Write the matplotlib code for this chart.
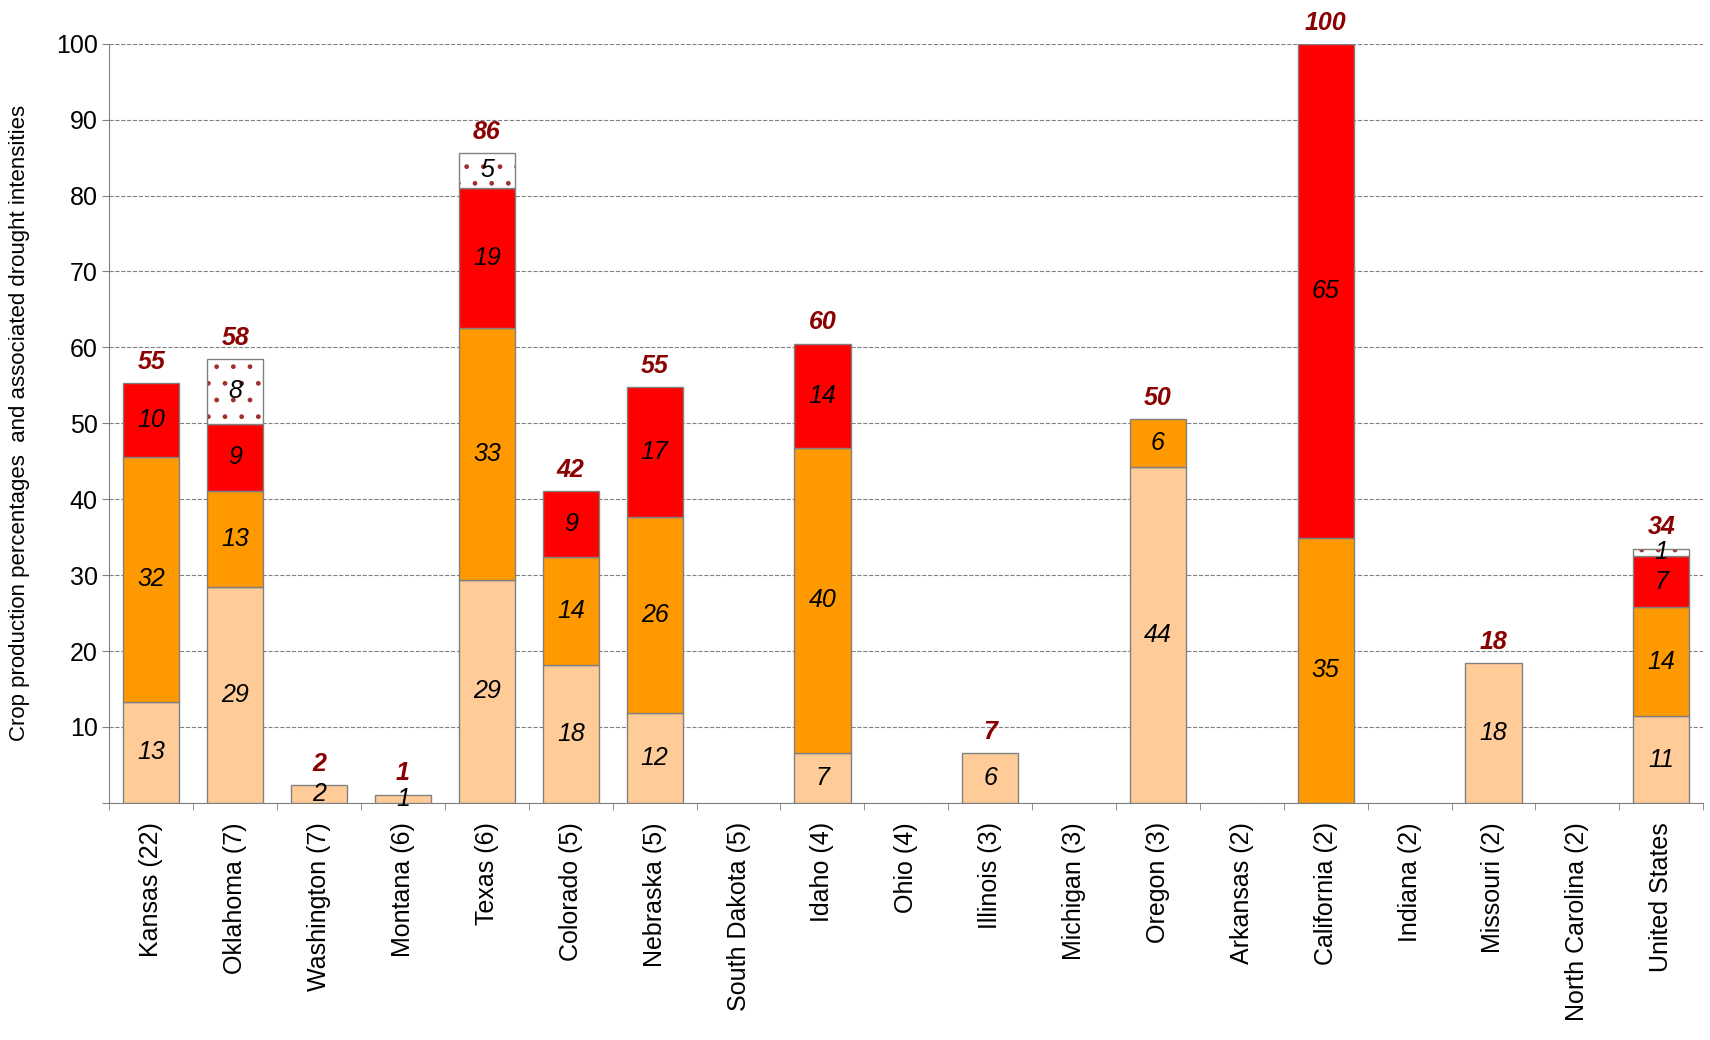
import numpy as np
import matplotlib.pyplot as plt

plt.rcParams['font.family'] = ['Liberation Sans', 'DejaVu Sans']

states = ["Kansas (22)", "Oklahoma (7)", "Washington (7)", "Montana (6)", "Texas (6)",
          "Colorado (5)", "Nebraska (5)", "South Dakota (5)", "Idaho (4)", "Ohio (4)",
          "Illinois (3)", "Michigan (3)", "Oregon (3)", "Arkansas (2)", "California (2)",
          "Indiana (2)", "Missouri (2)", "North Carolina (2)", "United States"]

d1 = [13.3, 28.5, 2.4, 1.1, 29.4, 18.1, 11.8, 0, 6.6, 0, 6.6, 0, 44.2, 0, 0, 0, 18.4, 0, 11.4]
d2 = [32.3, 12.6, 0, 0, 33.1, 14.3, 25.9, 0, 40.2, 0, 0, 0, 6.3, 0, 34.9, 0, 0, 0, 14.4]
d3 = [9.7, 8.8, 0, 0, 18.5, 8.7, 17.1, 0, 13.7, 0, 0, 0, 0, 0, 65.1, 0, 0, 0, 6.7]
d4 = [0, 8.6, 0, 0, 4.6, 0, 0, 0, 0, 0, 0, 0, 0, 0, 0, 0, 0, 0, 1.0]

lab1 = ["13", "29", "2", "1", "29", "18", "12", "", "7", "", "6", "", "44", "", "", "", "18", "", "11"]
lab2 = ["32", "13", "", "", "33", "14", "26", "", "40", "", "", "", "6", "", "35", "", "", "", "14"]
lab3 = ["10", "9", "", "", "19", "9", "17", "", "14", "", "", "", "", "", "65", "", "", "", "7"]
lab4 = ["", "8", "", "", "5", "", "", "", "", "", "", "", "", "", "", "", "", "", "1"]
totals = ["55", "58", "2", "1", "86", "42", "55", "", "60", "", "7", "", "50", "", "100", "", "18", "", "34"]

fig = plt.figure(figsize=(17.1, 10.4), dpi=100)
ax = fig.add_axes([0.064, 0.228, 0.932, 0.73])

x = np.arange(len(states))
w = 0.67
fs = 18
bottom = np.zeros(len(states))
for vals, labs, col in [(d1, lab1, "#FFCC99"), (d2, lab2, "#FF9900"), (d3, lab3, "#FF0000")]:
    v = np.array(vals)
    m = v > 0
    ax.bar(x[m], v[m], w, bottom=bottom[m], color=col, edgecolor="#808080", linewidth=1, zorder=3)
    for xi, b, h, t in zip(x, bottom, v, labs):
        if t:
            ax.text(xi, b + h / 2, t, ha="center", va="center", fontsize=fs, style="italic", zorder=5)
    bottom = bottom + v

v4 = np.array(d4)
mask = v4 > 0
ax.bar(x[mask], v4[mask], w, bottom=bottom[mask], color="white", edgecolor="#A03030",
       hatch=". ", linewidth=0, zorder=3)
ax.bar(x[mask], v4[mask], w, bottom=bottom[mask], fill=False, edgecolor="#808080",
       linewidth=1, zorder=4)
for xi, b, h, t in zip(x, bottom, v4, lab4):
    if t:
        ax.text(xi, b + h / 2, t, ha="center", va="center", fontsize=fs, style="italic", zorder=5)
bottom = bottom + v4

for xi, b, t in zip(x, bottom, totals):
    if t:
        ax.text(xi, b + 1.2, t, ha="center", va="bottom", fontsize=fs, style="italic",
                fontweight="bold", color="#8B0000")

ax.set_xlim(-0.5, len(states) - 0.5)
ax.set_ylim(0, 100)
ax.set_yticks(range(0, 101, 10))
ax.set_yticklabels([""] + [str(v) for v in range(10, 101, 10)], fontsize=fs)
ax.yaxis.grid(True, linestyle="--", color="#808080", linewidth=0.8, zorder=0)
ax.set_xticks(x)
ax.set_xticklabels(states, rotation=90, fontsize=fs)
ax.tick_params(axis="x", length=0, pad=14)
ax.set_xticks(np.arange(-0.5, len(states), 1), minor=True)
ax.tick_params(axis="x", which="minor", length=5, color="#808080")
ax.tick_params(axis="y", length=5, color="#808080")
for s in ["top", "right"]:
    ax.spines[s].set_visible(False)
ax.spines["left"].set_color("#808080")
ax.spines["bottom"].set_color("#808080")
ax.set_ylabel("Crop production percentages  and associated drought intensities", fontsize=16)
ax.yaxis.set_label_coords(-0.05, 0.5)

fig.savefig("out.png", dpi=100)
